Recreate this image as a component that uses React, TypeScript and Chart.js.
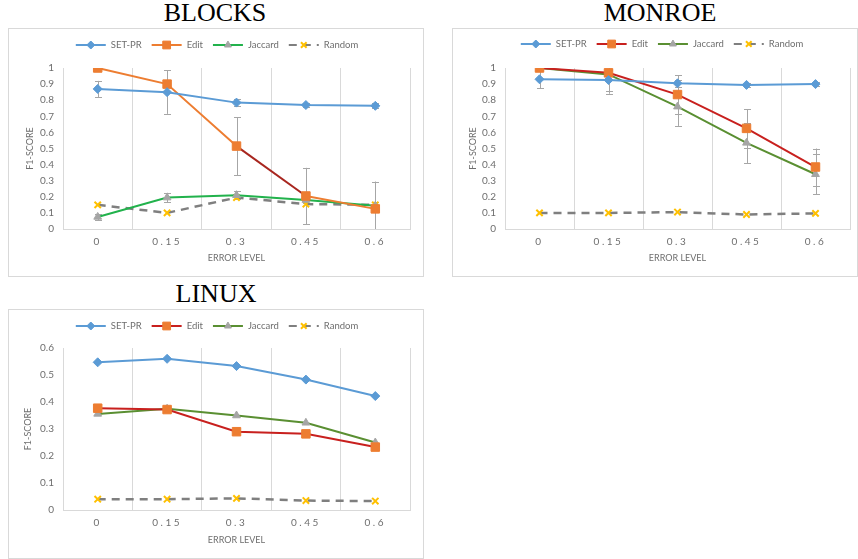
import React, { useEffect, useRef } from 'react';
import { Chart, registerables, CategoryScale } from 'chart.js';
import { drawPoint } from 'chart.js/helpers';

Chart.register(...registerables);

// Category axis whose tick labels are drawn with wider letter spacing.
class SpacedCategoryScale extends CategoryScale {
  static id = 'spacedCategory';
  static defaults = CategoryScale.defaults;
  drawLabels(chartArea: any) {
    const ctx = (this as any).ctx as CanvasRenderingContext2D;
    ctx.save();
    (ctx as any).letterSpacing = '2.5px';
    super.drawLabels(chartArea);
    ctx.restore();
  }
}
Chart.register(SpacedCategoryScale);

Chart.defaults.font.family = 'Lato, "Open Sans", sans-serif';

// ---- data ----
const errorLevels = ['0', '0.15', '0.3', '0.45', '0.6'];
const seriesNames = ['SET-PR', 'Edit', 'Jaccard', 'Random'];

const blocksSetPr = [0.87, 0.85, 0.785, 0.77, 0.765];
const blocksSetPrErr = [0.05, 0.135, 0.02, 0.015, 0.015];
const blocksEdit = [1.0, 0.9, 0.515, 0.205, 0.125];
const blocksEditErr = [0, 0, 0.18, 0.175, 0.17];
const blocksJaccard = [0.075, 0.195, 0.21, 0.18, 0.145];
const blocksJaccardErr = [0.02, 0.03, 0.025, 0.02, 0.02];
const blocksRandom = [0.15, 0.1, 0.195, 0.155, 0.15];

const monroeSetPr = [0.93, 0.925, 0.905, 0.895, 0.9];
const monroeSetPrErr = [0.055, 0.07, 0.02, 0.01, 0.01];
const monroeEdit = [1.0, 0.97, 0.835, 0.625, 0.385];
const monroeEditErr = [0, 0.02, 0.12, 0.12, 0.115];
const monroeJaccard = [1.0, 0.96, 0.76, 0.535, 0.34];
const monroeJaccardErr = [0, 0.12, 0.12, 0.125, 0.125];
const monroeRandom = [0.1, 0.1, 0.105, 0.09, 0.097];

const linuxSetPr = [0.547, 0.56, 0.533, 0.483, 0.422];
const linuxEdit = [0.377, 0.372, 0.29, 0.282, 0.233];
const linuxJaccard = [0.356, 0.375, 0.35, 0.323, 0.25];
const linuxRandom = [0.04, 0.04, 0.043, 0.035, 0.033];

// ---- styling ----
const GRID = '#d9d9d9';
const TEXT = '#6e6e6e';
const ERR = '#a6a6a6';
const BLUE = '#5b9bd5';
const ORANGE = '#ed7d31';
const RED = '#c8201e';
const GREEN_BRIGHT = '#22b24c';
const GREEN_OLIVE = '#5a8f32';
const GRAY_MARK = '#a5a5a5';
const DASH_GRAY = '#7f7f7f';
const YELLOW = '#ffc000';

// Draws symmetric error bars from each dataset's `errors` array.
const errorBarPlugin = {
  id: 'errorBars',
  beforeDatasetsDraw(chart: any) {
    const { ctx, chartArea, scales } = chart;
    ctx.save();
    ctx.beginPath();
    ctx.rect(chartArea.left, chartArea.top, chartArea.right - chartArea.left, chartArea.bottom - chartArea.top);
    ctx.clip();
    ctx.strokeStyle = ERR;
    ctx.lineWidth = 1;
    chart.data.datasets.forEach((ds: any) => {
      if (!ds.errors) return;
      ds.data.forEach((v: number, i: number) => {
        const e = ds.errors[i];
        if (!e) return;
        const x = Math.round(scales.x.getPixelForValue(i)) + 0.5;
        const y1 = scales.y.getPixelForValue(v + e);
        const y2 = scales.y.getPixelForValue(v - e);
        ctx.beginPath();
        ctx.moveTo(x, y1);
        ctx.lineTo(x, y2);
        ctx.moveTo(x - 3.5, Math.round(y1) + 0.5);
        ctx.lineTo(x + 3.5, Math.round(y1) + 0.5);
        ctx.moveTo(x - 3.5, Math.round(y2) + 0.5);
        ctx.lineTo(x + 3.5, Math.round(y2) + 0.5);
        ctx.stroke();
      });
    });
    ctx.restore();
  },
};

// Legend with a line sample and marker for every series.
const lineLegendPlugin = {
  id: 'lineLegend',
  afterDraw(chart: any, _args: any, opts: any) {
    const { ctx } = chart;
    ctx.save();
    ctx.font = `${opts.fontSize}px Lato, "Open Sans", sans-serif`;
    ctx.textBaseline = 'middle';
    const L = opts.lineLength;
    const items = chart.data.datasets.map((ds: any) => ({ ds, w: ctx.measureText(ds.label).width }));
    const total =
      items.reduce((s: number, it: any) => s + L + opts.textGap + it.w, 0) + opts.itemGap * (items.length - 1);
    let x = opts.centerX - total / 2;
    const y = opts.y;
    for (const { ds, w } of items) {
      ctx.strokeStyle = ds.borderColor;
      ctx.lineWidth = 2;
      ctx.setLineDash(ds.borderDash || []);
      ctx.beginPath();
      ctx.moveTo(x, y);
      ctx.lineTo(x + L, y);
      ctx.stroke();
      ctx.setLineDash([]);
      ctx.fillStyle = ds.pointBackgroundColor;
      ctx.strokeStyle = ds.pointBorderColor;
      ctx.lineWidth = ds.pointBorderWidth;
      drawPoint(
        ctx,
        { pointStyle: ds.pointStyle, radius: ds.pointRadius - 0.5, rotation: 0, borderWidth: ds.pointBorderWidth } as any,
        x + L / 2,
        y
      );
      ctx.fillStyle = TEXT;
      ctx.fillText(ds.label, x + L + opts.textGap, y);
      x += L + opts.textGap + w + opts.itemGap;
    }
    ctx.restore();
  },
};

function makeDatasets(
  values: number[][],
  errors: (number[] | null)[],
  editColor: string,
  jaccardColor: string,
  editSegment?: string
) {
  return [
    {
      label: seriesNames[0],
      data: values[0],
      errors: errors[0],
      borderColor: BLUE,
      backgroundColor: BLUE,
      borderWidth: 2,
      pointStyle: 'rectRot',
      pointRadius: 4.5,
      pointBackgroundColor: BLUE,
      pointBorderColor: BLUE,
      pointBorderWidth: 1,
      tension: 0,
    },
    {
      label: seriesNames[1],
      data: values[1],
      errors: errors[1],
      borderColor: editColor,
      backgroundColor: ORANGE,
      borderWidth: 2,
      pointStyle: 'rect',
      pointRadius: 6,
      pointBackgroundColor: ORANGE,
      pointBorderColor: ORANGE,
      pointBorderWidth: 1,
      segment: editSegment
        ? { borderColor: (c: any) => (c.p0DataIndex === 2 ? editSegment : undefined) }
        : undefined,
    },
    {
      label: seriesNames[2],
      data: values[2],
      errors: errors[2],
      borderColor: jaccardColor,
      backgroundColor: GRAY_MARK,
      borderWidth: 2,
      pointStyle: 'triangle',
      pointRadius: 4.5,
      pointBackgroundColor: GRAY_MARK,
      pointBorderColor: GRAY_MARK,
      pointBorderWidth: 1,
    },
    {
      label: seriesNames[3],
      data: values[3],
      errors: null,
      borderColor: DASH_GRAY,
      backgroundColor: YELLOW,
      borderWidth: 2.5,
      borderDash: [8, 6],
      pointStyle: 'crossRot',
      pointRadius: 4.5,
      pointBackgroundColor: YELLOW,
      pointBorderColor: YELLOW,
      pointBorderWidth: 2,
    },
  ];
}

type PanelCfg = {
  title: string;
  titleX: number;
  titleTop: number;
  box: { x: number; y: number; w: number; h: number };
  plotLeft: number;
  plotTop: number;
  plotBottom: number;
  padRight: number;
  yMax: number;
  yTitleCenter: number;
  legendX: number;
  legendY: number;
  datasets: any[];
};

const panels: PanelCfg[] = [
  {
    title: 'BLOCKS',
    titleX: 215,
    titleTop: 0,
    box: { x: 8, y: 28, w: 416, h: 249 },
    plotLeft: 54,
    plotTop: 39,
    plotBottom: 200,
    padRight: 13,
    yMax: 1,
    yTitleCenter: 21,
    legendX: 208,
    legendY: 16,
    datasets: makeDatasets(
      [blocksSetPr, blocksEdit, blocksJaccard, blocksRandom],
      [blocksSetPrErr, blocksEditErr, blocksJaccardErr, null],
      ORANGE,
      GREEN_BRIGHT,
      '#a8261f'
    ),
  },
  {
    title: 'MONROE',
    titleX: 660,
    titleTop: 0,
    box: { x: 452, y: 28, w: 406, h: 249 },
    plotLeft: 52,
    plotTop: 39,
    plotBottom: 200,
    padRight: 1,
    yMax: 1,
    yTitleCenter: 20,
    legendX: 209,
    legendY: 15,
    datasets: makeDatasets(
      [monroeSetPr, monroeEdit, monroeJaccard, monroeRandom],
      [monroeSetPrErr, monroeEditErr, monroeJaccardErr, null],
      RED,
      GREEN_OLIVE
    ),
  },
  {
    title: 'LINUX',
    titleX: 216,
    titleTop: 281,
    box: { x: 8, y: 309, w: 416, h: 250 },
    plotLeft: 54,
    plotTop: 38,
    plotBottom: 200,
    padRight: 13,
    yMax: 0.6,
    yTitleCenter: 19,
    legendX: 208,
    legendY: 16,
    datasets: makeDatasets(
      [linuxSetPr, linuxEdit, linuxJaccard, linuxRandom],
      [null, null, null, null],
      RED,
      GREEN_OLIVE
    ),
  },
];

function Panel({ cfg }: { cfg: PanelCfg }) {
  const ref = useRef<HTMLCanvasElement | null>(null);
  const cw = cfg.box.w - 2;
  const ch = cfg.box.h - 2;
  useEffect(() => {
    const xHeight = ch - cfg.plotBottom;
    const chart = new Chart(ref.current as HTMLCanvasElement, {
      type: 'line',
      data: { labels: errorLevels, datasets: cfg.datasets },
      plugins: [errorBarPlugin, lineLegendPlugin],
      options: {
        animation: false,
        responsive: false,
        maintainAspectRatio: false,
        layout: { padding: { top: cfg.plotTop, right: cfg.padRight, bottom: 0, left: 0 } },
        plugins: {
          legend: { display: false },
          tooltip: { enabled: false },
          lineLegend: { centerX: cfg.legendX, y: cfg.legendY, fontSize: 9.5, lineLength: 30, textGap: 5, itemGap: 10 },
        } as any,
        scales: {
          x: {
            type: 'spacedCategory' as any,
            offset: true,
            grid: { offset: true, color: GRID, drawTicks: false, lineWidth: 1 },
            border: { display: true, color: GRID },
            ticks: { color: TEXT, font: { size: 10 }, padding: 7, maxRotation: 0 },
            title: {
              display: true,
              text: 'ERROR LEVEL',
              color: TEXT,
              font: { size: 9 },
              padding: { top: 0, bottom: 12.5 },
            },
            afterFit: (s: any) => {
              s.height = xHeight;
            },
          } as any,
          y: {
            min: 0,
            max: cfg.yMax,
            grid: { display: false, drawTicks: false },
            border: { display: true, color: GRID },
            ticks: {
              stepSize: 0.1,
              color: TEXT,
              font: { size: 10 },
              padding: 9,
              callback: (v: any) => String(Math.round(Number(v) * 10) / 10),
            },
            title: {
              display: true,
              text: 'F1-SCORE',
              color: TEXT,
              font: { size: 9 },
              padding: { top: cfg.yTitleCenter - 5.4, bottom: 0 },
            },
            afterFit: (s: any) => {
              s.width = cfg.plotLeft;
            },
          },
        },
      },
    });
    return () => chart.destroy();
  }, []);
  return (
    <>
      <div
        style={{
          position: 'absolute',
          left: cfg.titleX - 150,
          top: cfg.titleTop,
          width: 300,
          textAlign: 'center',
          fontFamily: '"Liberation Serif", "Times New Roman", serif',
          fontSize: 26,
          lineHeight: '26px',
          color: '#000',
        }}
      >
        {cfg.title}
      </div>
      <div
        style={{
          position: 'absolute',
          left: cfg.box.x,
          top: cfg.box.y,
          width: cfg.box.w,
          height: cfg.box.h,
          border: `1px solid ${GRID}`,
          boxSizing: 'border-box',
          background: '#fff',
        }}
      >
        <canvas ref={ref} width={cw} height={ch} style={{ display: 'block', width: cw, height: ch }} />
      </div>
    </>
  );
}

export default function App() {
  return (
    <div style={{ position: 'fixed', left: 0, top: 0, width: 858, height: 559, background: '#fff', overflow: 'hidden' }}>
      {panels.map((p) => (
        <Panel key={p.title} cfg={p} />
      ))}
    </div>
  );
}
